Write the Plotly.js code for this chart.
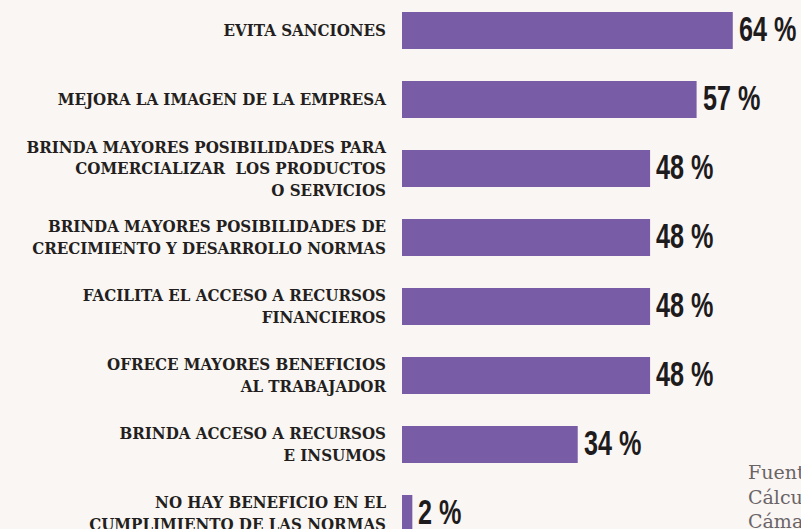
<!DOCTYPE html>
<html>
<head>
<meta charset="utf-8">
<script src="https://cdn.plot.ly/plotly-3.0.1.min.js"></script>
<style>
html,body{margin:0;padding:0;background:#faf6f4;}
#chart{width:801px;height:529px;}
.annotation:not([data-index="8"]) .annotation-text{
  transform-box: fill-box;
  transform-origin: left center;
  transform: scaleX(0.72);
}
</style>
</head>
<body>
<div id="chart"></div>
<script>
var categories = [
  "EVITA SANCIONES",
  "MEJORA LA IMAGEN DE LA EMPRESA",
  "BRINDA MAYORES POSIBILIDADES PARA<br>COMERCIALIZAR  LOS PRODUCTOS<br>O SERVICIOS",
  "BRINDA MAYORES POSIBILIDADES DE<br>CRECIMIENTO Y DESARROLLO NORMAS",
  "FACILITA EL ACCESO A RECURSOS<br>FINANCIEROS",
  "OFRECE MAYORES BENEFICIOS<br>AL TRABAJADOR",
  "BRINDA ACCESO A RECURSOS<br>E INSUMOS",
  "NO HAY BENEFICIO EN EL<br>CUMPLIMIENTO DE LAS NORMAS"
];
var values = [64, 57, 48, 48, 48, 48, 34, 2];
var valueLabels = ["64 %", "57 %", "48 %", "48 %", "48 %", "48 %", "34 %", "2 %"];
var sourceLines = ["Fuente:", "Cálculos", "Cámara"];

var trace = {
  type: "bar",
  orientation: "h",
  x: values,
  y: categories,
  marker: {color: "#785ca6"},
  hoverinfo: "none"
};

var annotations = values.map(function(v, i){
  return {
    x: v, y: categories[i], xref: "x", yref: "y",
    text: valueLabels[i], showarrow: false,
    xanchor: "left", yanchor: "middle", xshift: 4, yshift: 2,
    font: {family: "Liberation Sans, Arial, sans-serif", size: 35, color: "#1e1b1c", weight: "bold"}
  };
});
annotations.push({
  xref: "paper", yref: "paper", x: 0.862, y: 0.133,
  xanchor: "left", yanchor: "top", align: "left", showarrow: false,
  text: sourceLines.join("<br>"),
  font: {family: "DejaVu Serif, serif", size: 19, color: "#6a6466"}
});

var layout = {
  width: 801, height: 529,
  margin: {l: 402, r: 0, t: 0, b: 0, pad: 0},
  paper_bgcolor: "#faf6f4",
  plot_bgcolor: "#faf6f4",
  showlegend: false,
  bargap: 0.464,
  xaxis: {range: [0, 77.2], visible: false, fixedrange: true},
  yaxis: {
    type: "category",
    range: [7.225, -0.442],
    showgrid: false, zeroline: false, showline: false,
    ticks: "", ticklabelstandoff: 15,
    tickfont: {family: "DejaVu Serif Condensed, DejaVu Serif, serif", size: 16.8, color: "#231f20", weight: "bold"},
    fixedrange: true
  },
  annotations: annotations
};

Plotly.newPlot("chart", [trace], layout, {displayModeBar: false, staticPlot: true});
</script>
</body>
</html>
